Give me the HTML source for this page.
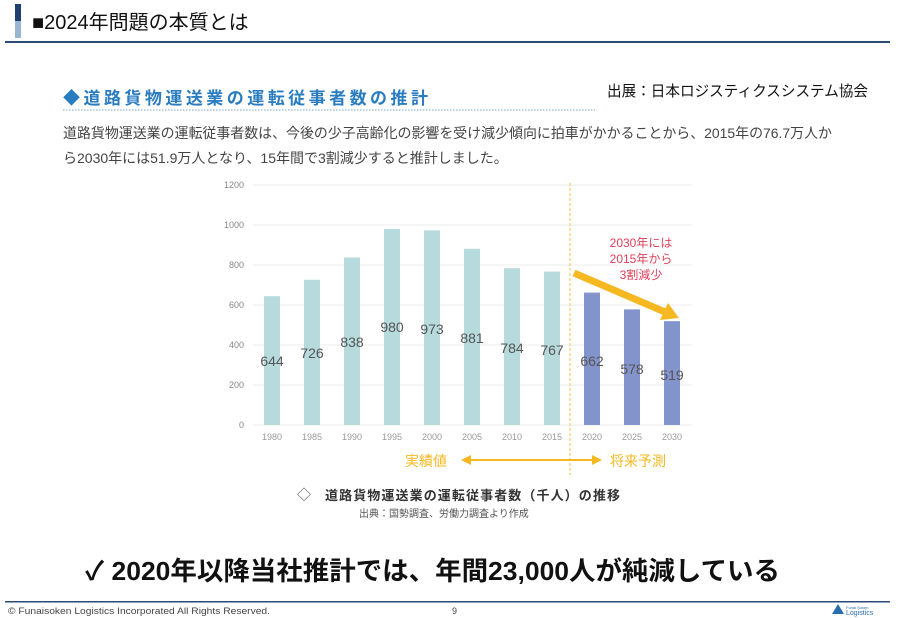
<!DOCTYPE html>
<html><head><meta charset="utf-8"><style>
html,body{margin:0;padding:0;background:#fff;}
svg{display:block;font-family:"Liberation Sans","Noto Sans CJK JP",sans-serif;}
</style></head><body>
<svg width="900" height="618" viewBox="0 0 900 618" xmlns="http://www.w3.org/2000/svg">
<rect x="0" y="0" width="900" height="618" fill="#fff"/>
<rect x="15" y="4" width="6" height="17" fill="#1f3f6e"/>
<rect x="15" y="21" width="6" height="17" fill="#9ab4d4"/>
<text x="32" y="29" font-size="20" fill="#111">■2024年問題の本質とは</text>
<rect x="5" y="41" width="885" height="2" fill="#2b4a7a"/>

<text x="63" y="104" font-size="17" font-weight="bold" fill="#2a7cc0" textLength="365" lengthAdjust="spacing">◆道路貨物運送業の運転従事者数の推計</text>
<line x1="63" y1="110" x2="595" y2="110" stroke="#7aa8d4" stroke-width="1" stroke-dasharray="1.5,1.5"/>
<text x="607" y="96" font-size="15" fill="#111" textLength="261" lengthAdjust="spacingAndGlyphs">出展：日本ロジスティクスシステム協会</text>
<text x="63" y="138" font-size="14" fill="#444" textLength="769" lengthAdjust="spacingAndGlyphs">道路貨物運送業の運転従事者数は、今後の少子高齢化の影響を受け減少傾向に拍車がかかることから、2015年の76.7万人か</text>
<text x="63" y="163" font-size="14" fill="#444">ら2030年には51.9万人となり、15年間で3割減少すると推計しました。</text>

<g font-size="9" fill="#888" text-anchor="end">
<text x="244" y="188">1200</text><text x="244" y="228">1000</text><text x="244" y="268">800</text>
<text x="244" y="308">600</text><text x="244" y="348">400</text><text x="244" y="388">200</text><text x="244" y="428">0</text>
</g>
<g stroke="#eee" stroke-width="1">
<line x1="253" y1="185" x2="692" y2="185"/><line x1="253" y1="225" x2="692" y2="225"/>
<line x1="253" y1="265" x2="692" y2="265"/><line x1="253" y1="305" x2="692" y2="305"/>
<line x1="253" y1="345" x2="692" y2="345"/><line x1="253" y1="385" x2="692" y2="385"/>
<line x1="253" y1="425" x2="692" y2="425"/>
</g>
<g fill="#b7dadc">
<rect x="264" y="296.2" width="16" height="128.8"/>
<rect x="304" y="279.8" width="16" height="145.2"/>
<rect x="344" y="257.4" width="16" height="167.6"/>
<rect x="384" y="229" width="16" height="196"/>
<rect x="424" y="230.4" width="16" height="194.6"/>
<rect x="464" y="248.8" width="16" height="176.2"/>
<rect x="504" y="268.2" width="16" height="156.8"/>
<rect x="544" y="271.6" width="16" height="153.4"/>
</g>
<g fill="#8393cc">
<rect x="584" y="292.6" width="16" height="132.4"/>
<rect x="624" y="309.4" width="16" height="115.6"/>
<rect x="664" y="321.2" width="16" height="103.8"/>
</g>
<g font-size="14" fill="#555" text-anchor="middle">
<text x="272" y="366">644</text><text x="312" y="358">726</text><text x="352" y="347">838</text>
<text x="392" y="332">980</text><text x="432" y="334">973</text><text x="472" y="343">881</text>
<text x="512" y="353">784</text><text x="552" y="355">767</text><text x="592" y="366">662</text>
<text x="632" y="374">578</text><text x="672" y="380">519</text>
</g>
<g font-size="9" fill="#999" text-anchor="middle">
<text x="272" y="440">1980</text><text x="312" y="440">1985</text><text x="352" y="440">1990</text>
<text x="392" y="440">1995</text><text x="432" y="440">2000</text><text x="472" y="440">2005</text>
<text x="512" y="440">2010</text><text x="552" y="440">2015</text><text x="592" y="440">2020</text>
<text x="632" y="440">2025</text><text x="672" y="440">2030</text>
</g>
<line x1="570" y1="183" x2="570" y2="475" stroke="#f5c242" stroke-width="1" stroke-dasharray="3,2"/>
<line x1="574" y1="273" x2="665" y2="312" stroke="#f5b820" stroke-width="7"/>
<polygon points="679,318 660,320 668,303" fill="#f5b820"/>
<g font-size="12" fill="#e0405a" text-anchor="middle">
<text x="641" y="247">2030年には</text><text x="641" y="263">2015年から</text><text x="641" y="279">3割減少</text>
</g>
<text x="405" y="466" font-size="14" fill="#f5b820">実績値</text>
<line x1="468" y1="460" x2="596" y2="460" stroke="#f5b820" stroke-width="2"/>
<polygon points="461,460 471,455 471,465" fill="#f5b820"/>
<polygon points="602,460 592,455 592,465" fill="#f5b820"/>
<text x="610" y="466" font-size="14" fill="#f5b820">将来予測</text>
<text x="297" y="500" font-size="14" fill="#555">◇</text>
<text x="325" y="500" font-size="13" font-weight="bold" fill="#333" textLength="295" lengthAdjust="spacing">道路貨物運送業の運転従事者数（千人）の推移</text>
<text x="359" y="517" font-size="10" fill="#555">出典：国勢調査、労働力調査より作成</text>

<text x="85" y="580" font-size="26" font-weight="bold" fill="#111" textLength="695" lengthAdjust="spacingAndGlyphs">✓ 2020年以降当社推計では、年間23,000人が純減している</text>
<rect x="5" y="601" width="885" height="1.5" fill="#2b4a7a"/>
<text x="8" y="614" font-size="9" fill="#444" textLength="262" lengthAdjust="spacingAndGlyphs">© Funaisoken Logistics Incorporated All Rights Reserved.</text>
<text x="452" y="614" font-size="9" fill="#444">9</text>
<polygon points="832,614 838,604 844,614" fill="#2a6cb0"/>
<text x="846" y="609" font-size="4" fill="#2a6cb0">Funai Soken</text>
<text x="846" y="615" font-size="7" fill="#2a6cb0">Logistics</text>
</svg>
</body></html>
